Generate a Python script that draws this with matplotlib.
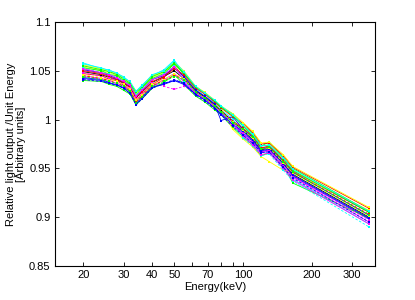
import matplotlib
matplotlib.use('Agg')
import matplotlib.pyplot as plt
from matplotlib.ticker import FixedLocator, FixedFormatter, NullLocator

plt.rcParams['font.family'] = ['Liberation Sans', 'DejaVu Sans']

energy = [20, 24, 26, 28, 30, 32, 34, 36, 40, 45, 50, 55, 62, 68, 75, 80, 90, 100, 110, 120, 130, 150, 165, 356]

# relative light output per unit energy, one list per sample
s01 = [1.043, 1.041, 1.038, 1.035, 1.033, 1.029, 1.016, 1.023, 1.033, 1.037, 1.040, 1.038, 1.026, 1.021, 1.012, 1.005, 0.995, 0.986, 0.978, 0.967, 0.969, 0.955, 0.942, 0.898]
s02 = [1.040, 1.039, 1.036, 1.034, 1.030, 1.026, 1.015, 1.021, 1.032, 1.038, 1.046, 1.036, 1.024, 1.018, 1.010, 1.005, 0.992, 0.982, 0.974, 0.963, 0.966, 0.953, 0.935, 0.899]
s03 = [1.047, 1.045, 1.041, 1.040, 1.035, 1.031, 1.019, 1.026, 1.036, 1.043, 1.055, 1.044, 1.030, 1.023, 1.016, 1.009, 0.999, 0.991, 0.983, 0.971, 0.973, 0.958, 0.947, 0.905]
s04 = [1.058, 1.052, 1.051, 1.047, 1.044, 1.038, 1.029, 1.035, 1.045, 1.051, 1.061, 1.045, 1.031, 1.024, 1.017, 1.010, 1.001, 0.984, 0.975, 0.966, 0.967, 0.950, 0.939, 0.893]
s05 = [1.045, 1.042, 1.040, 1.037, 1.035, 1.029, 1.018, 1.025, 1.034, 1.041, 1.047, 1.039, 1.027, 1.020, 1.013, 1.006, 0.994, 0.985, 0.976, 0.966, 0.968, 0.952, 0.941, 0.895]
s06 = [1.054, 1.050, 1.048, 1.045, 1.041, 1.036, 1.027, 1.032, 1.043, 1.048, 1.057, 1.048, 1.033, 1.027, 1.019, 1.012, 0.990, 0.980, 0.972, 0.962, 0.957, 0.948, 0.946, 0.907]
s07 = [1.049, 1.046, 1.043, 1.041, 1.037, 1.033, 1.022, 1.028, 1.038, 1.044, 1.050, 1.042, 1.029, 1.023, 1.015, 1.009, 0.998, 0.989, 0.980, 0.969, 0.971, 0.955, 0.944, 0.900]
s08 = [1.051, 1.048, 1.045, 1.042, 1.038, 1.034, 1.024, 1.029, 1.041, 1.045, 1.053, 1.044, 1.030, 1.024, 1.016, 0.999, 1.003, 0.990, 0.982, 0.970, 0.972, 0.957, 0.946, 0.902]
s09 = [1.053, 1.050, 1.046, 1.045, 1.040, 1.036, 1.025, 1.032, 1.042, 1.047, 1.057, 1.047, 1.034, 1.027, 1.019, 1.013, 1.006, 0.994, 0.986, 0.973, 0.977, 0.961, 0.950, 0.906]
s10 = [1.050, 1.047, 1.044, 1.041, 1.038, 1.033, 1.023, 1.028, 1.039, 1.044, 1.052, 1.046, 1.032, 1.026, 1.018, 1.012, 1.003, 0.996, 0.987, 0.975, 0.976, 0.963, 0.951, 0.909]
s11 = [1.053, 1.048, 1.047, 1.043, 1.040, 1.035, 1.025, 1.031, 1.041, 1.047, 1.055, 1.040, 1.028, 1.021, 1.014, 1.007, 0.996, 0.981, 0.973, 0.963, 0.965, 0.948, 0.937, 0.890]
s12 = [1.048, 1.044, 1.043, 1.040, 1.036, 1.032, 1.021, 1.026, 1.037, 1.034, 1.031, 1.034, 1.028, 1.022, 1.014, 1.008, 0.997, 0.986, 0.978, 0.967, 0.969, 0.953, 0.942, 0.897]
s13 = [1.056, 1.052, 1.049, 1.047, 1.043, 1.038, 1.029, 1.033, 1.045, 1.049, 1.059, 1.050, 1.034, 1.028, 1.020, 1.014, 1.006, 0.997, 0.988, 0.976, 0.977, 0.964, 0.952, 0.910]
s14 = [1.042, 1.040, 1.037, 1.036, 1.032, 1.027, 1.016, 1.021, 1.033, 1.036, 1.040, 1.036, 1.026, 1.020, 1.012, 1.006, 0.995, 0.988, 0.979, 0.968, 0.970, 0.955, 0.943, 0.899]
s15 = [1.055, 1.051, 1.049, 1.046, 1.042, 1.037, 1.028, 1.033, 1.044, 1.049, 1.058, 1.048, 1.033, 1.027, 1.019, 1.013, 1.004, 0.993, 0.984, 0.973, 0.974, 0.960, 0.948, 0.905]
s16 = [1.045, 1.042, 1.040, 1.037, 1.034, 1.029, 1.018, 1.024, 1.035, 1.040, 1.045, 1.042, 1.028, 1.022, 1.014, 1.008, 0.998, 0.991, 0.982, 0.971, 0.972, 0.958, 0.946, 0.903]
s17 = [1.057, 1.053, 1.050, 1.048, 1.043, 1.039, 1.029, 1.034, 1.046, 1.050, 1.060, 1.049, 1.034, 1.027, 1.020, 1.014, 1.005, 0.994, 0.985, 0.973, 0.974, 0.961, 0.949, 0.906]
s18 = [1.052, 1.048, 1.046, 1.043, 1.039, 1.035, 1.024, 1.030, 1.041, 1.046, 1.054, 1.041, 1.028, 1.022, 1.014, 1.008, 0.997, 0.983, 0.974, 0.964, 0.966, 0.950, 0.938, 0.893]
s19 = [1.046, 1.043, 1.041, 1.039, 1.036, 1.031, 1.020, 1.025, 1.036, 1.041, 1.047, 1.042, 1.028, 1.022, 1.014, 1.008, 0.998, 0.989, 0.981, 0.970, 0.971, 0.956, 0.945, 0.901]
s20 = [1.044, 1.041, 1.039, 1.037, 1.034, 1.029, 1.017, 1.023, 1.034, 1.039, 1.044, 1.041, 1.028, 1.022, 1.014, 1.008, 0.997, 0.990, 0.982, 0.970, 0.972, 0.957, 0.946, 0.902]
s21 = [1.041, 1.039, 1.037, 1.035, 1.032, 1.027, 1.015, 1.021, 1.032, 1.037, 1.041, 1.037, 1.025, 1.019, 1.011, 1.005, 0.993, 0.984, 0.976, 0.966, 0.967, 0.951, 0.940, 0.895]

series = [s01, s02, s03, s04, s05, s06, s07, s08, s09, s10, s11,
          s12, s13, s14, s15, s16, s17, s18, s19, s20, s21]
colors = ['b', 'g', 'r', 'c', 'm', 'y', 'k', 'b', 'g', 'r', 'c',
          'm', 'y', 'b', 'g', 'r', 'c', 'm', 'y', 'g', 'b']
styles = ['-', '-', '-', '-', '-', '-', '-', '-', '-', '-', '--',
          '--', '-', '-', '-', '--', '-', '-', '--', '--', '--']
rgb = {'b': '#0000ff', 'g': '#00ff00', 'r': '#ff0000', 'c': '#00ffff',
       'm': '#ff00ff', 'y': '#ffff00', 'k': '#000000'}

xticks = [20, 30, 40, 50, 60, 70, 80, 90, 100, 200, 300]
xlabels = ['20', '30', '40', '50', '', '70', '', '', '100', '200', '300']
yticks = [0.85, 0.9, 0.95, 1.0, 1.05, 1.1]
ylabels = ['0.85', '0.9', '0.95', '1', '1.05', '1.1']

fig = plt.figure(figsize=(4.15, 3.0), dpi=100)
ax = fig.add_axes([0.132, 0.113, 0.772, 0.814])

for s, c, ls in zip(series, colors, styles):
    if ls == '--':
        ax.plot(energy, s, ls, color=rgb[c], lw=0.6, marker='s', ms=1.9, mew=0, dashes=(3, 2))
    else:
        ax.plot(energy, s, ls, color=rgb[c], lw=0.6, marker='s', ms=1.9, mew=0)

ax.set_xscale('log')
ax.set_xlim(15, 378)
ax.set_ylim(0.85, 1.1)
ax.xaxis.set_major_locator(FixedLocator(xticks))
ax.xaxis.set_major_formatter(FixedFormatter(xlabels))
ax.xaxis.set_minor_locator(NullLocator())
ax.set_yticks(yticks)
ax.set_yticklabels(ylabels)
ax.tick_params(direction='in', top=True, right=True, length=3, width=0.6, labelsize=8, pad=3)
for sp in ax.spines.values():
    sp.set_linewidth(0.8)

ax.set_xlabel('Energy(keV)', fontsize=8, labelpad=1)
ax.set_ylabel('Relative light output /Unit Energy\n[Arbitrary units]', fontsize=8, labelpad=2, linespacing=1.0)

fig.savefig('out.png', dpi=100)
